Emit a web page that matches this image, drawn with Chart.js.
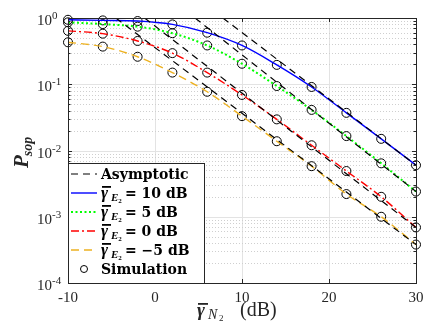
<!DOCTYPE html>
<html>
<head>
<meta charset="utf-8">
<script src="https://cdn.jsdelivr.net/npm/chart.js@4/dist/chart.umd.min.js"></script>
<style>
  html, body { margin: 0; padding: 0; background: #fff; }
</style>
</head>
<body>
<canvas id="chart" width="427" height="329"></canvas>
<script>
// SNR points (dB) where the curves and the simulation markers are read
const snrDb = [-10, -6, -2, 2, 6, 10, 14, 18, 22, 26, 30];

// secrecy outage probability, one array per gamma_E2
const psopE10 = [0.94, 0.92, 0.90, 0.80, 0.60, 0.385, 0.196, 0.091, 0.037, 0.015, 0.0060];
const psopE5 = [0.86, 0.81, 0.74, 0.59, 0.385, 0.204, 0.094, 0.041, 0.0165, 0.0064, 0.0024];
const psopE0 = [0.64, 0.58, 0.45, 0.295, 0.150, 0.069, 0.0295, 0.012, 0.0049, 0.0020, 0.00069];
const psopEm5 = [0.43, 0.37, 0.26, 0.150, 0.077, 0.033, 0.0138, 0.0058, 0.0022, 0.0010, 0.00038];

// asymptotes: snr (dB) where they leave the top of the plot, and value at 30 dB
const asymStartDb = [7.8, 4.6, -1.2, -4.5];
const asymEndValue = [0.0060, 0.0024, 0.00069, 0.00038];

const xTicks = [-10, 0, 10, 20, 30];
const yDecades = [-4, -3, -2, -1, 0];
const legendValues = ["10", "5", "0", "\u22125"];

const seriesColors = ["#0000ff", "#00ff00", "#ff0000", "#EDB120"];
const seriesDash = [[], [2, 2.5], [8, 3, 2, 3], [8, 5]];
const seriesWidth = [1.4, 2, 1.4, 1.4];
const allSeries = [psopE10, psopE5, psopE0, psopEm5];

const pts = (ys) => snrDb.map((x, i) => ({ x: x, y: ys[i] }));

const datasets = [];
asymStartDb.forEach((s, i) => {
  datasets.push({
    data: [{ x: s, y: 1 }, { x: 30, y: asymEndValue[i] }],
    borderColor: "#000",
    borderWidth: 1.2,
    borderDash: [7, 5],
    pointRadius: 0,
    fill: false,
  });
});
allSeries.forEach((ys, i) => {
  datasets.push({
    data: pts(ys),
    borderColor: seriesColors[i],
    borderWidth: seriesWidth[i],
    borderDash: seriesDash[i],
    cubicInterpolationMode: "monotone",
    pointRadius: 0,
    fill: false,
  });
});
allSeries.forEach((ys) => {
  datasets.push({
    data: pts(ys),
    showLine: false,
    pointStyle: "circle",
    pointRadius: 4.5,
    pointBorderColor: "#000",
    pointBackgroundColor: "rgba(0,0,0,0)",
    pointBorderWidth: 1,
    clip: false,
  });
});

const SERIF = "'Liberation Serif', 'DejaVu Serif', serif";
const WIDE = "'DejaVu Serif', serif";

// MATLAB-like axes: grid, inward ticks, frame, labels, legend
const axesPlugin = {
  id: "matlabAxes",
  beforeDatasetsDraw(chart) {
    const { ctx, chartArea: a, scales } = chart;
    const xs = scales.x, ys = scales.y;
    ctx.save();
    ctx.strokeStyle = "#e3e3e3";
    ctx.lineWidth = 1;
    xTicks.forEach((t) => {
      const px = Math.round(xs.getPixelForValue(t)) + 0.5;
      ctx.beginPath(); ctx.moveTo(px, a.top); ctx.lineTo(px, a.bottom); ctx.stroke();
    });
    yDecades.forEach((d) => {
      const py = Math.round(ys.getPixelForValue(Math.pow(10, d))) + 0.5;
      ctx.beginPath(); ctx.moveTo(a.left, py); ctx.lineTo(a.right, py); ctx.stroke();
    });
    ctx.strokeStyle = "#cfcfcf";
    ctx.setLineDash([1, 2]);
    yDecades.slice(0, -1).forEach((d) => {
      for (let k = 2; k <= 9; k++) {
        const py = Math.round(ys.getPixelForValue(k * Math.pow(10, d))) + 0.5;
        ctx.beginPath(); ctx.moveTo(a.left, py); ctx.lineTo(a.right, py); ctx.stroke();
      }
    });
    ctx.restore();
  },
  afterDatasetsDraw(chart) {
    const { ctx, chartArea: a, scales } = chart;
    const xs = scales.x, ys = scales.y;
    ctx.save();
    ctx.strokeStyle = "#262626";
    ctx.lineWidth = 1;
    // ticks
    xTicks.forEach((t) => {
      const px = Math.round(xs.getPixelForValue(t)) + 0.5;
      ctx.beginPath();
      ctx.moveTo(px, a.bottom); ctx.lineTo(px, a.bottom - 4);
      ctx.moveTo(px, a.top); ctx.lineTo(px, a.top + 4);
      ctx.stroke();
    });
    yDecades.forEach((d) => {
      for (let k = 1; k <= 9; k++) {
        if (d === 0 && k > 1) break;
        const len = k === 1 ? 4 : 2.5;
        const py = Math.round(ys.getPixelForValue(k * Math.pow(10, d))) + 0.5;
        ctx.beginPath();
        ctx.moveTo(a.left, py); ctx.lineTo(a.left + len, py);
        ctx.moveTo(a.right, py); ctx.lineTo(a.right - len, py);
        ctx.stroke();
      }
    });
    // frame
    ctx.strokeRect(Math.round(a.left) + 0.5, Math.round(a.top) + 0.5,
      Math.round(a.right - a.left), Math.round(a.bottom - a.top));

    // tick labels
    ctx.fillStyle = "#262626";
    ctx.font = "15px " + SERIF;
    ctx.textAlign = "center";
    ctx.textBaseline = "alphabetic";
    xTicks.forEach((t) => {
      const label = t < 0 ? "-" + Math.abs(t) : String(t);
      ctx.fillText(label, xs.getPixelForValue(t), 302);
    });
    yDecades.forEach((d) => {
      const py = ys.getPixelForValue(Math.pow(10, d));
      ctx.font = "15px " + SERIF;
      ctx.textAlign = "right";
      ctx.fillText("10", 52, py + 7);
      ctx.font = "11px " + SERIF;
      ctx.textAlign = "left";
      ctx.fillText(d < 0 ? "-" + Math.abs(d) : String(d), 52, py + 1);
    });

    // x title: gamma-bar_{N2} (dB)
    ctx.textAlign = "left";
    const xt = 197, yt = 316;
    ctx.font = "bold italic 19px " + SERIF;
    ctx.fillText("\u03b3", xt, yt);
    ctx.fillRect(xt + 1, yt - 13, 10, 1.8);
    ctx.font = "italic 14px " + SERIF;
    ctx.fillText("N", xt + 11, yt + 3);
    ctx.font = "9px " + SERIF;
    ctx.fillText("2", xt + 22, yt + 5);
    ctx.font = "20px " + SERIF;
    ctx.fillText("(dB)", 240, yt);

    // y title: P_sop
    ctx.save();
    ctx.translate(28, 168);
    ctx.rotate(-Math.PI / 2);
    ctx.font = "bold italic 21px " + SERIF;
    ctx.fillText("P", 0, 0);
    const pw = ctx.measureText("P").width;
    ctx.font = "bold italic 14px " + SERIF;
    ctx.fillText("sop", pw - 1, 4);
    ctx.restore();

    // legend
    const lx = 68.5, ly = 163.5, lw = 136, lh = Math.round(a.bottom) - 163;
    ctx.fillStyle = "#fff";
    ctx.fillRect(lx, ly, lw, lh);
    ctx.strokeRect(lx, ly, lw, lh);
    ctx.fillStyle = "#000";
    const rowY = (i) => 174 + i * 19;
    const drawSample = (i, color, dash, width) => {
      ctx.save();
      ctx.strokeStyle = color;
      ctx.lineWidth = width;
      ctx.setLineDash(dash);
      ctx.beginPath(); ctx.moveTo(71, rowY(i)); ctx.lineTo(97, rowY(i)); ctx.stroke();
      ctx.restore();
    };
    drawSample(0, "#000", [7, 5], 1.2);
    ctx.font = "bold 14px " + WIDE;
    ctx.fillText("Asymptotic", 101, rowY(0) + 5);
    legendValues.forEach((v, k) => {
      const i = k + 1;
      drawSample(i, seriesColors[k], seriesDash[k], seriesWidth[k]);
      const by = rowY(i) + 5;
      let x = 101;
      ctx.font = "bold italic 17px " + SERIF;
      ctx.fillText("\u03b3", x, by);
      ctx.fillRect(x + 1, by - 12, 9, 1.8);
      x += 10;
      ctx.font = "bold italic 11px " + SERIF;
      ctx.fillText("E", x, by + 3);
      x += ctx.measureText("E").width;
      ctx.font = "bold 7px " + SERIF;
      ctx.fillText("2", x, by + 5);
      ctx.font = "bold 14px " + WIDE;
      ctx.fillText("= " + v + " dB", 125, by);
    });
    ctx.beginPath();
    ctx.arc(84, rowY(5), 3.5, 0, Math.PI * 2);
    ctx.strokeStyle = "#000";
    ctx.stroke();
    ctx.font = "bold 14px " + WIDE;
    ctx.fillText("Simulation", 101, rowY(5) + 5);
    ctx.restore();
  },
};

new Chart(document.getElementById("chart"), {
  type: "line",
  data: { datasets: datasets },
  plugins: [axesPlugin],
  options: {
    responsive: false,
    animation: false,
    layout: { padding: { left: 68, top: 18, right: 11, bottom: 46 } },
    plugins: { legend: { display: false }, tooltip: { enabled: false } },
    scales: {
      x: { type: "linear", min: -10, max: 30, display: false },
      y: { type: "logarithmic", min: 1e-4, max: 1, display: false },
    },
  },
});
</script>
</body>
</html>
